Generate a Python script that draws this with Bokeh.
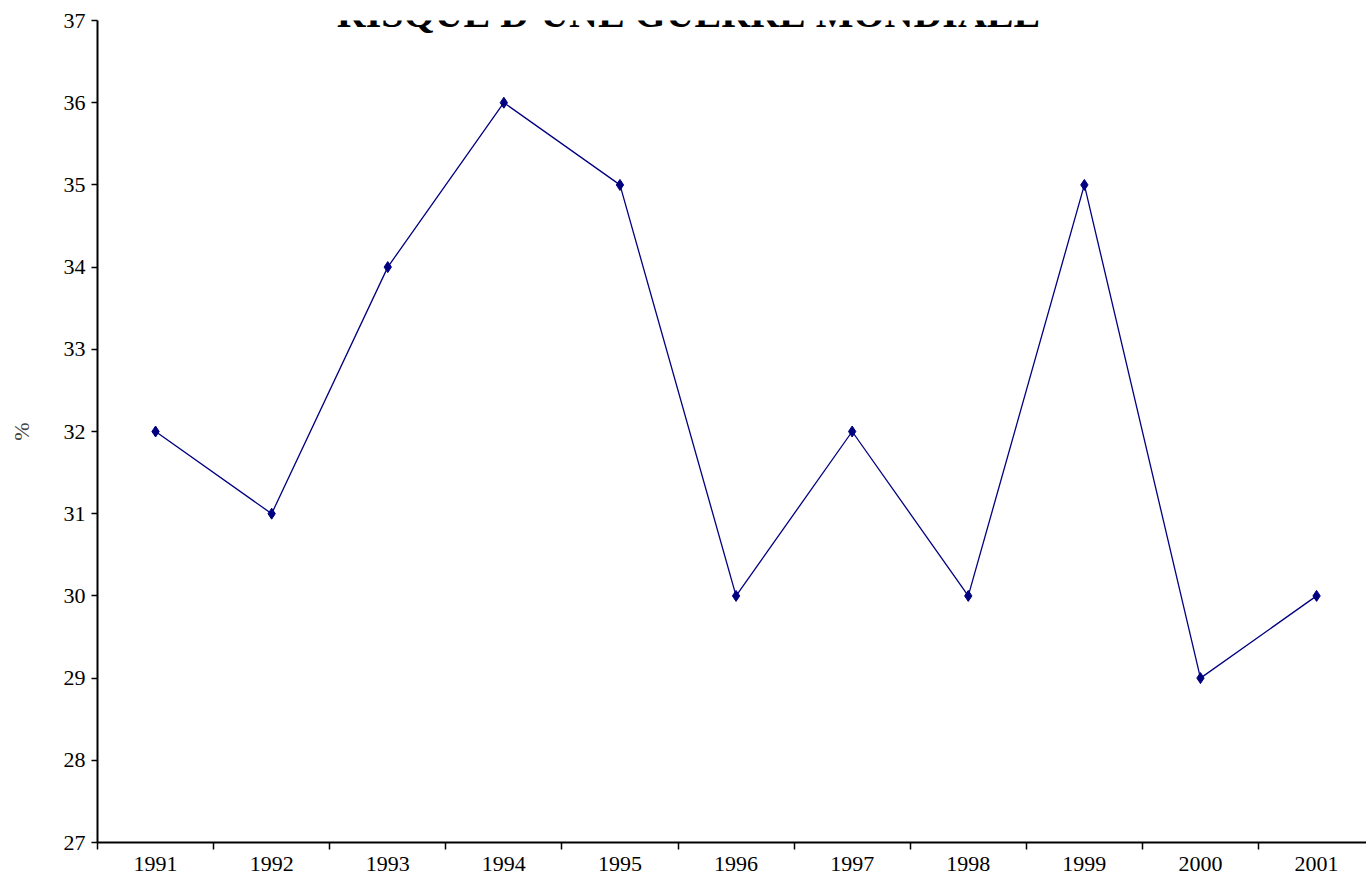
from bokeh.plotting import figure
from bokeh.models import FixedTicker, Range1d, Label
from bokeh.embed import file_html
from bokeh.resources import INLINE

years = [1991, 1992, 1993, 1994, 1995, 1996, 1997, 1998, 1999, 2000, 2001]
values = [32, 31, 34, 36, 35, 30, 32, 30, 35, 29, 30]
y_ticks = [27, 28, 29, 30, 31, 32, 33, 34, 35, 36, 37]
title_text = "RISQUE D'UNE GUERRE MONDIALE"
y_label = "%"

SERIF = "Liberation Serif"
NAVY = "#000080"

p = figure(width=1366, height=885, output_backend="svg", toolbar_location=None,
           x_range=Range1d(1990.5, 2001.43), y_range=Range1d(27, 37),
           min_border_left=97, min_border_right=0, min_border_top=20, min_border_bottom=43)
p.outline_line_color = None
p.grid.visible = False
p.background_fill_color = "white"
p.border_fill_color = "white"

p.line(years, values, line_color=NAVY, line_width=1.3)
p.scatter(years, values, marker="diamond", size=11, color=NAVY)

# x axis
p.xaxis.ticker = FixedTicker(ticks=years, minor_ticks=[y + 0.5 for y in [1990] + years])
p.xaxis.major_tick_out = 0
p.xaxis.major_tick_in = 0
p.xaxis.minor_tick_out = 7
p.xaxis.minor_tick_in = 0
p.xaxis.minor_tick_line_color = "black"
p.xaxis.minor_tick_line_width = 1.5
p.xaxis.major_label_standoff = 7
p.xaxis.major_label_text_font = SERIF
p.xaxis.major_label_text_font_size = "22px"
p.xaxis.major_label_text_color = "black"
p.xaxis.axis_line_width = 2
p.xaxis.axis_line_color = "black"

# y axis
p.yaxis.ticker = FixedTicker(ticks=y_ticks, minor_ticks=[])
p.yaxis.major_tick_out = 6
p.yaxis.major_tick_in = 0
p.yaxis.major_tick_line_width = 1.5
p.yaxis.major_label_standoff = 6
p.yaxis.major_label_text_font = SERIF
p.yaxis.major_label_text_font_size = "22px"
p.yaxis.major_label_text_color = "black"
p.yaxis.axis_line_width = 2
p.yaxis.axis_line_color = "black"
p.yaxis.axis_label = y_label
p.yaxis.axis_label_text_font = SERIF
p.yaxis.axis_label_text_font_style = "normal"
p.yaxis.axis_label_text_font_size = "22px"
p.yaxis.axis_label_standoff = 27

title = Label(x=1995.59, y=37.085, text=title_text, text_align="center",
              text_baseline="alphabetic", text_font=SERIF, text_font_style="bold",
              text_font_size="40px", text_color="black")
p.add_layout(title)

open("out.html", "w").write(file_html(p, INLINE))
